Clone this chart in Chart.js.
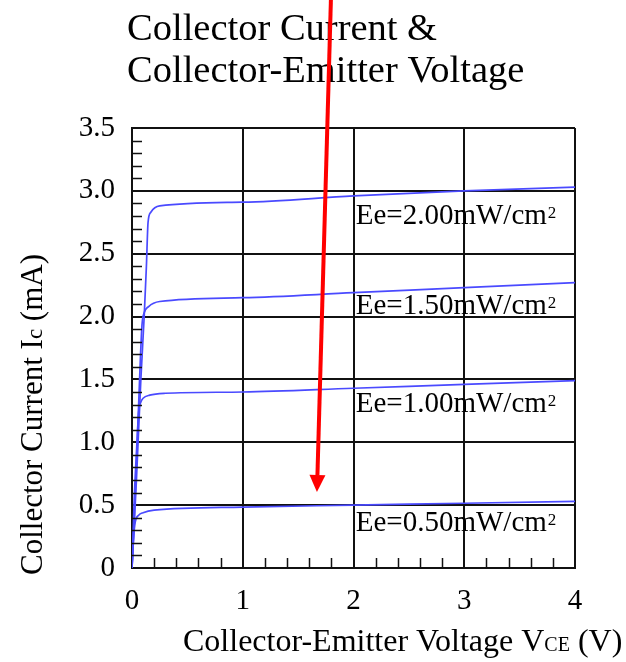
<!DOCTYPE html>
<html>
<head>
<meta charset="utf-8">
<script src="https://cdn.jsdelivr.net/npm/chart.js@4.4.1/dist/chart.umd.min.js"></script>
<style>
  html, body { margin: 0; padding: 0; background: #fff; }
  canvas { display: block; }
</style>
</head>
<body>
<canvas id="ivChart" width="626" height="662"></canvas>
<script>
// Curves: VCE (V) against IC (mA), one pair per irradiance
const vce050 = [0, 0.015, 0.03, 0.06, 0.1, 0.2, 1, 2, 3, 4];
const ic050  = [0, 0.25, 0.37, 0.42, 0.44, 0.46, 0.485, 0.5, 0.515, 0.53];

const vce100 = [0, 0.02, 0.045, 0.06, 0.08, 0.1, 0.16, 0.3, 1, 2, 3, 4];
const ic100  = [0, 0.55, 1.0, 1.24, 1.32, 1.35, 1.375, 1.39, 1.4, 1.43, 1.46, 1.49];

const vce150 = [0, 0.03, 0.06, 0.09, 0.11, 0.15, 0.25, 1, 2, 3, 4];
const ic150  = [0, 0.6, 1.3, 1.93, 2.03, 2.08, 2.12, 2.15, 2.19, 2.23, 2.27];

const vce200 = [0, 0.04, 0.08, 0.11, 0.13, 0.145, 0.17, 0.25, 1, 2, 3, 4];
const ic200  = [0, 0.7, 1.5, 2.0, 2.4, 2.75, 2.83, 2.88, 2.91, 2.96, 3.0, 3.03];

const seriesLabels = ['Ee=0.50mW/cm', 'Ee=1.00mW/cm', 'Ee=1.50mW/cm', 'Ee=2.00mW/cm'];
// where each label sits (data units: VCE, IC at text baseline)
const labelVce = 2.02;
const labelIc = [0.294, 1.241, 2.02, 2.737];

const xTickLabels = ['0', '1', '2', '3', '4'];
const yTickLabels = ['0', '0.5', '1.0', '1.5', '2.0', '2.5', '3.0', '3.5'];
const xMinorStep = 0.2;
const yMinorStep = 0.1;

// red arrow, in data units (tail starts above the plot)
const arrowTail = { x: 1.796, y: 4.52 };
const arrowTip = { x: 1.67, y: 0.605 };

const SERIF = "'Liberation Serif', 'Times New Roman', serif";
const curveColor = '#4a4aff';
const inkColor = '#111';

function toPoints(xs, ys) {
  return xs.map((x, i) => ({ x: x, y: ys[i] }));
}

const seriesData = [
  toPoints(vce050, ic050),
  toPoints(vce100, ic100),
  toPoints(vce150, ic150),
  toPoints(vce200, ic200)
];

const datasets = seriesData.map((pts, i) => ({
  label: seriesLabels[i],
  data: pts,
  borderColor: curveColor,
  borderWidth: 1.7,
  pointRadius: 0,
  fill: false,
  cubicInterpolationMode: 'monotone'
}));

const extrasPlugin = {
  id: 'extras',
  afterDatasetsDraw(chart) {
    const ctx = chart.ctx;
    const xs = chart.scales.x;
    const ys = chart.scales.y;
    const area = chart.chartArea;

    // minor ticks, inside the frame
    ctx.save();
    ctx.strokeStyle = inkColor;
    ctx.lineWidth = 1.5;
    ctx.beginPath();
    for (let k = 1; k * yMinorStep < ys.max; k++) {
      if (k % 5 === 0) continue;
      const py = Math.round(ys.getPixelForValue(k * yMinorStep)) + 0.5;
      ctx.moveTo(area.left, py);
      ctx.lineTo(area.left + 10, py);
    }
    for (let k = 1; k * xMinorStep < xs.max; k++) {
      if (k % 5 === 0) continue;
      const px = Math.round(xs.getPixelForValue(k * xMinorStep)) + 0.5;
      ctx.moveTo(px, area.bottom);
      ctx.lineTo(px, area.bottom - 10);
    }
    ctx.stroke();

    // curve labels
    ctx.fillStyle = '#000';
    ctx.textBaseline = 'alphabetic';
    ctx.textAlign = 'left';
    seriesLabels.forEach((txt, i) => {
      const px = xs.getPixelForValue(labelVce);
      const py = ys.getPixelForValue(labelIc[i]);
      ctx.font = '29px ' + SERIF;
      ctx.fillText(txt, px, py);
      const w = ctx.measureText(txt).width;
      ctx.font = '17px ' + SERIF;
      ctx.fillText('2', px + w + 1, py - 6);
    });
    ctx.restore();
  },
  afterDraw(chart) {
    const ctx = chart.ctx;
    const xs = chart.scales.x;
    const ys = chart.scales.y;
    ctx.save();
    ctx.fillStyle = '#000';
    ctx.textAlign = 'left';
    ctx.textBaseline = 'alphabetic';

    // title
    ctx.font = '38.5px ' + SERIF;
    ctx.fillText('Collector Current &', 127, 40);
    ctx.fillText('Collector-Emitter Voltage', 127, 82);

    // x axis title with small "CE"
    let x = 183;
    const xBase = 651;
    ctx.font = '32px ' + SERIF;
    ctx.fillText('Collector-Emitter Voltage V', x, xBase);
    x += ctx.measureText('Collector-Emitter Voltage V').width;
    ctx.font = '20px ' + SERIF;
    ctx.fillText('CE', x, xBase);
    x += ctx.measureText('CE').width;
    ctx.font = '32px ' + SERIF;
    ctx.fillText(' (V)', x, xBase);

    // y axis title, rotated
    ctx.save();
    ctx.translate(42, 575);
    ctx.rotate(-Math.PI / 2);
    let y = 0;
    ctx.font = '31px ' + SERIF;
    ctx.fillText('Collector Current I', y, 0);
    y += ctx.measureText('Collector Current I').width;
    ctx.font = '23px ' + SERIF;
    ctx.fillText('c', y, 0);
    y += ctx.measureText('c').width;
    ctx.font = '31px ' + SERIF;
    ctx.fillText(' (mA)', y, 0);
    ctx.restore();

    // red arrow
    const tx = xs.getPixelForValue(arrowTail.x);
    const ty = ys.getPixelForValue(arrowTail.y);
    const hx = xs.getPixelForValue(arrowTip.x);
    const hy = ys.getPixelForValue(arrowTip.y);
    const ang = Math.atan2(hy - ty, hx - tx);
    const headLen = 17;
    const headHalf = 8;
    const bx = hx - headLen * Math.cos(ang);
    const by = hy - headLen * Math.sin(ang);
    ctx.strokeStyle = '#ff0000';
    ctx.fillStyle = '#ff0000';
    ctx.lineWidth = 4;
    ctx.beginPath();
    ctx.moveTo(tx, ty);
    ctx.lineTo(bx, by);
    ctx.stroke();
    ctx.beginPath();
    ctx.moveTo(hx, hy);
    ctx.lineTo(bx + headHalf * Math.sin(ang), by - headHalf * Math.cos(ang));
    ctx.lineTo(bx - headHalf * Math.sin(ang), by + headHalf * Math.cos(ang));
    ctx.closePath();
    ctx.fill();
    ctx.restore();
  }
};

const ctx = document.getElementById('ivChart').getContext('2d');
new Chart(ctx, {
  type: 'line',
  data: { datasets },
  options: {
    responsive: false,
    animation: false,
    devicePixelRatio: 1,
    layout: { padding: { top: 128, right: 51, bottom: 0, left: 0 } },
    plugins: {
      legend: { display: false },
      tooltip: { enabled: false }
    },
    scales: {
      x: {
        type: 'linear',
        min: 0,
        max: 4,
        afterFit: scale => { scale.height = 94; },
        ticks: {
          stepSize: 1,
          padding: 16,
          color: '#000',
          font: { family: SERIF, size: 29 },
          callback: v => xTickLabels[v]
        },
        grid: { color: inkColor, lineWidth: 2, drawTicks: false },
        border: { display: true, color: inkColor, width: 2 }
      },
      y: {
        type: 'linear',
        min: 0,
        max: 3.5,
        afterFit: scale => { scale.width = 132; },
        ticks: {
          stepSize: 0.5,
          padding: 17,
          color: '#000',
          font: { family: SERIF, size: 29 },
          callback: v => yTickLabels[Math.round(v * 2)]
        },
        grid: { color: inkColor, lineWidth: 2, drawTicks: false },
        border: { display: true, color: inkColor, width: 2 }
      }
    }
  },
  plugins: [extrasPlugin]
});
</script>
</body>
</html>
